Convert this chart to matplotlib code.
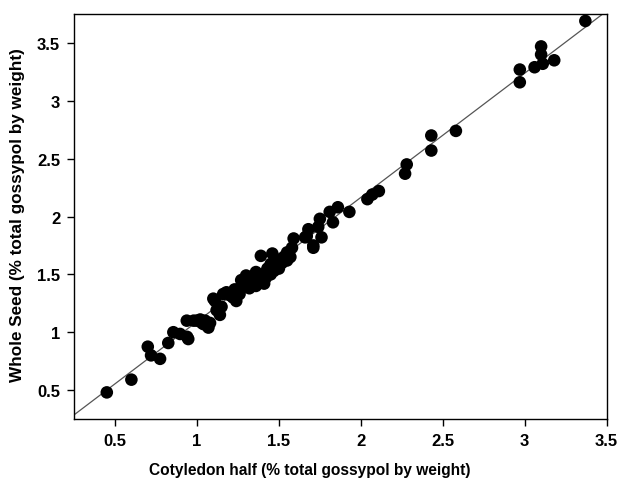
import matplotlib
matplotlib.use("Agg")
import matplotlib.pyplot as plt
import numpy as np

plt.rcParams['font.family'] = ['Liberation Sans', 'DejaVu Sans']

# cotyledon half vs whole seed gossypol (% by weight)
cotyledon = [0.45, 0.60, 0.70, 0.72, 0.775, 0.825, 0.856, 0.897, 0.947, 0.938,
             0.94, 0.98, 1.00, 1.02, 1.04, 1.07, 1.03, 1.05, 1.08, 1.10,
             1.11, 1.12, 1.14, 1.15, 1.16, 1.18, 1.20, 1.22, 1.23, 1.24,
             1.25, 1.26, 1.27, 1.28, 1.30, 1.30, 1.32, 1.33, 1.33, 1.35,
             1.36, 1.36, 1.37, 1.38, 1.39, 1.39, 1.40, 1.41, 1.42, 1.43,
             1.43, 1.45, 1.45, 1.46, 1.47, 1.48, 1.50, 1.51, 1.52, 1.53,
             1.55, 1.55, 1.57, 1.58, 1.59, 1.66, 1.67, 1.68, 1.71, 1.71,
             1.74, 1.75, 1.76, 1.81, 1.83, 1.86, 1.93, 2.04, 2.07, 2.11,
             2.27, 2.28, 2.43, 2.43, 2.58, 2.97, 2.97, 3.06, 3.11, 3.10,
             3.10, 3.18, 3.37]
whole_seed = [0.48, 0.59, 0.875, 0.80, 0.77, 0.907, 1.00, 0.985, 0.941, 1.10,
              0.96, 1.10, 1.10, 1.11, 1.07, 1.04, 1.08, 1.10, 1.08, 1.29,
              1.27, 1.19, 1.15, 1.22, 1.33, 1.345, 1.32, 1.30, 1.37, 1.27,
              1.37, 1.33, 1.45, 1.40, 1.49, 1.43, 1.38, 1.42, 1.47, 1.45,
              1.52, 1.40, 1.42, 1.48, 1.44, 1.66, 1.50, 1.42, 1.47, 1.52,
              1.55, 1.59, 1.50, 1.68, 1.53, 1.58, 1.55, 1.63, 1.60, 1.65,
              1.69, 1.62, 1.65, 1.73, 1.81, 1.82, 1.83, 1.89, 1.75, 1.73,
              1.91, 1.98, 1.82, 2.04, 1.95, 2.08, 2.04, 2.15, 2.19, 2.22,
              2.37, 2.45, 2.57, 2.70, 2.74, 3.16, 3.27, 3.29, 3.32, 3.40,
              3.47, 3.35, 3.69]

# fitted line
slope = 1.074
intercept = 0.017

x_ticks = [0.5, 1, 1.5, 2, 2.5, 3, 3.5]
y_ticks = [0.5, 1, 1.5, 2, 2.5, 3, 3.5]

fig = plt.figure(figsize=(6.2, 4.89), dpi=100)
ax = fig.add_axes([0.1194, 0.1411, 0.8591, 0.8282])

ax.axline((0, intercept), slope=slope, color='#555555', linewidth=0.9, zorder=1)
ax.scatter(cotyledon, whole_seed, s=82, color='black', edgecolors='none', zorder=2)

ax.set_xlim(0.25, 3.5)
ax.set_ylim(0.25, 3.75)
ax.set_xticks(x_ticks)
ax.set_xticklabels([f'{t:g}' for t in x_ticks])
ax.set_yticks(y_ticks)
ax.set_yticklabels([f'{t:g}' for t in y_ticks])

ax.tick_params(direction='out', length=5, width=1, labelsize=12, pad=5)
for lab in ax.get_xticklabels() + ax.get_yticklabels():
    lab.set_fontweight('bold')
for sp in ax.spines.values():
    sp.set_linewidth(1)
    sp.set_color('black')

ax.set_xlabel('Cotyledon half (% total gossypol by weight)', fontsize=11.2,
              fontweight='bold')
ax.set_ylabel('Whole Seed (% total gossypol by weight)', fontsize=12.3,
              fontweight='bold')
ax.xaxis.set_label_coords(0.443, -0.105)
ax.yaxis.set_label_coords(-0.092, 0.505)

fig.savefig('out.png', dpi=100)
